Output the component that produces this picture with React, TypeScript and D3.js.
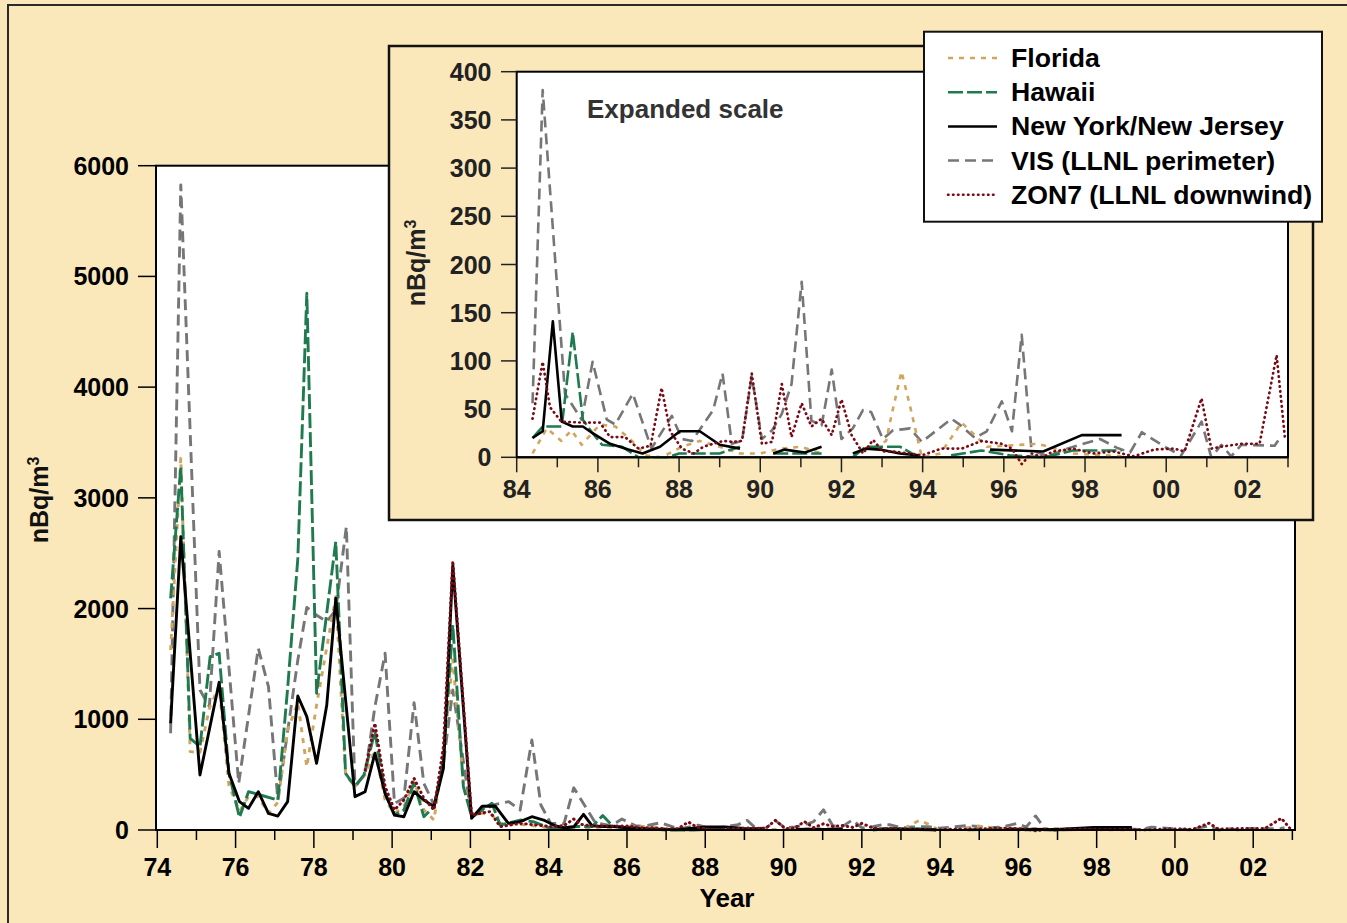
import React from "react";
import * as d3 from "d3";

type Pt = [number, number | null];

// ---- Data (year, nBq/m3); null = gap ----
const floridaData: Pt[] = [
  [74.34, 1626], [74.6, 3357], [74.84, 708], [75.09, 700], [75.33, 1100], [75.58, 1300], [75.83, 400],
  [76.1, 170], [76.33, 300], [76.58, 300], [76.84, 150], [77.08, 250], [77.33, 900], [77.59, 1150],
  [77.82, 570], [78.07, 1130], [78.56, 2108], [78.81, 500], [79.05, 390], [79.31, 500], [79.56, 723],
  [79.82, 271], [80.06, 150], [80.3, 211], [80.56, 437], [80.81, 181], [81.07, 90], [81.31, 692],
  [81.55, 1536], [81.82, 422], [82.03, 150], [82.5, 150], [82.76, 60], [83.3, 50], [83.8, 30], [84.1, 10],
  [84.39, 4], [84.74, 30], [85.1, 17], [85.35, 28], [85.6, 13], [86.05, 34], [86.43, 32], [86.84, 17],
  [87.17, 2], [87.57, 0], [88.07, 11], [88.51, 17], [89.0, 11], [89.5, 4], [90.0, 4], [90.5, 9],
  [91.0, 11], [91.5, 4], [92.0, null], [92.53, 9], [92.85, 11], [93.1, 17], [93.24, 45], [93.48, 89],
  [93.69, 53], [93.98, 0], [94.44, 4], [94.96, 36], [95.58, 11], [96.85, 14], [97.26, 9], [97.7, 4], [98.9, 1],
];

const hawaiiData: Pt[] = [
  [74.34, 2093], [74.6, 3282], [74.84, 828], [75.09, 753], [75.35, 1566], [75.58, 1596], [75.83, 512],
  [76.1, 114], [76.33, 346], [77.08, 271], [77.33, 1280], [77.59, 2450], [77.82, 4848], [78.07, 1235],
  [78.56, 2605], [78.81, 512], [79.05, 392], [79.28, 497], [79.56, 888], [79.82, 331], [80.06, 135],
  [80.3, 181], [80.56, 422], [80.81, 120], [81.07, 211], [81.31, 632], [81.55, 1852], [81.82, 392],
  [82.03, 120], [82.55, 241], [82.76, 45], [83.27, 90], [83.6, 75], [84.05, 15],
  [84.39, 20], [84.64, 32], [85.11, 32], [85.38, 130], [85.63, 39], [85.87, 25], [86.1, 13], [86.59, 11],
  [87.0, 0], [87.7, 0], [88.0, 4], [89.0, 4], [89.5, 11], [89.9, null], [90.32, 4], [91.51, 4],
  [91.9, null], [92.28, 0], [92.6, 11], [93.44, 11], [93.9, 0], [94.3, null], [94.7, 2], [95.45, 7],
  [96.15, 2], [97.0, 0], [97.7, 7], [98.9, 7],
];

const nyData: Pt[] = [
  [74.34, 964], [74.6, 2650], [75.09, 497], [75.58, 1334], [75.83, 512], [76.1, 256], [76.33, 196],
  [76.58, 346], [76.84, 151], [77.08, 126], [77.33, 256], [77.59, 1210], [77.82, 1024], [78.07, 602],
  [78.33, 1129], [78.56, 2093], [79.05, 301], [79.31, 346], [79.56, 693], [79.82, 331], [80.06, 135],
  [80.3, 120], [80.56, 346], [80.81, 271], [81.07, 211], [81.31, 557], [81.55, 2390], [82.03, 105],
  [82.3, 215], [82.63, 217], [82.97, 60], [83.27, 75], [83.57, 120], [83.87, 90], [84.15, 40],
  [84.39, 20], [84.64, 27], [84.89, 141], [85.11, 37], [85.38, 32], [85.63, 32], [85.87, 25], [86.3, 14],
  [86.75, 8], [87.1, 4], [87.53, 11], [88.02, 27], [88.51, 27], [89.0, 13], [89.5, 9], [89.9, null],
  [90.32, 4], [90.6, 8], [91.1, 5], [91.51, 11], [91.9, null], [92.28, 4], [92.6, 9], [92.95, 8],
  [93.44, 4], [93.9, 2], [94.5, null], [95.66, 8], [96.97, 6], [97.92, 23], [98.9, 23],
];

const visData: Pt[] = [
  [74.34, 873], [74.6, 5827], [75.09, 1265], [75.33, 1114], [75.58, 2515], [76.08, 422], [76.58, 1641],
  [76.84, 1295], [77.08, 271], [77.59, 1535], [77.82, 2011], [78.07, 1940], [78.33, 1882], [78.56, 1988],
  [78.83, 2740], [79.05, 400], [79.31, 500], [79.56, 1114], [79.82, 1596], [80.06, 241], [80.3, 286],
  [80.56, 1150], [80.81, 422], [81.07, 226], [81.31, 600], [81.55, 1265], [82.03, 115], [82.58, 226],
  [82.98, 256], [83.27, 180], [83.57, 813], [83.8, 226], [84.05, 60],
  [84.39, 56], [84.64, 381], [85.19, 66], [85.6, 39], [85.87, 99], [86.22, 39], [86.43, 34], [86.86, 66],
  [87.32, 9], [87.82, 43], [88.07, 19], [88.32, 17], [88.84, 49], [89.07, 87], [89.3, 14], [89.55, 17],
  [89.79, 84], [90.04, 19], [90.29, 28], [90.53, 45], [90.77, 76], [91.02, 182], [91.26, 38], [91.51, 33],
  [91.76, 91], [92.0, 19], [92.28, 30], [92.53, 49], [92.73, 47], [93.02, 19], [93.27, 28], [93.5, 29],
  [93.69, 30], [93.98, 16], [94.71, 40], [94.88, 35], [95.29, 20], [95.58, 27], [95.95, 58], [96.2, 27],
  [96.44, 127], [96.68, 8], [97.07, 1], [97.56, 9], [98.37, 19], [98.78, 10], [99.11, 5], [99.4, 26],
  [100.0, 10], [100.37, 2], [100.87, 37], [101.11, 0], [101.36, 13], [101.6, 1], [101.85, 13],
  [102.67, 12], [102.8, 20],
];

const zon7Data: Pt[] = [
  [79.31, 542], [79.56, 964], [79.82, 392], [80.06, 181], [80.3, 271], [80.56, 467], [80.81, 286],
  [81.07, 181], [81.31, 753], [81.55, 2430], [82.03, 135], [82.5, 166], [82.76, 30], [83.27, 60],
  [83.7, 45], [84.1, 30],
  [84.39, 40], [84.64, 99], [84.82, 52], [85.1, 37], [85.6, 36], [86.05, 36], [86.3, 21], [86.67, 21],
  [87.0, 9], [87.3, 12], [87.57, 72], [87.78, 27], [88.07, 9], [88.36, 4], [88.6, 11], [88.84, 14],
  [89.09, 17], [89.3, 16], [89.55, 17], [89.79, 87], [90.04, 14], [90.29, 16], [90.53, 76], [90.77, 21],
  [91.02, 56], [91.26, 32], [91.51, 40], [91.76, 23], [92.0, 60], [92.25, 23], [92.53, 4], [92.78, 18],
  [93.02, 6], [93.27, 6], [93.69, 4], [93.98, 2], [94.46, 9], [94.96, 9], [95.45, 17], [95.95, 14],
  [96.2, 9], [96.44, -7], [96.68, 4], [96.97, 0], [97.2, 6], [97.7, 9], [98.2, 4], [98.7, 6], [99.2, 1],
  [99.7, 8], [100.2, 9], [100.45, 6], [100.87, 61], [101.11, 9], [101.36, 11], [101.85, 14], [102.3, 14],
  [102.72, 106], [102.93, 18],
];

const mainYTicks = [0, 1000, 2000, 3000, 4000, 5000, 6000];
const insetYTicks = [0, 50, 100, 150, 200, 250, 300, 350, 400];
const yearLabel = (y: number) => String(y % 100).padStart(2, "0");

type Series = { name: string; data: Pt[]; color: string; dash: string; cap: "butt" | "round"; w: number };

const seriesList: Series[] = [
  { name: "VIS (LLNL perimeter)", data: visData, color: "#767676", dash: "11 6", cap: "butt", w: 2.9 },
  { name: "Florida", data: floridaData, color: "#D2A55E", dash: "5 6", cap: "butt", w: 2.9 },
  { name: "Hawaii", data: hawaiiData, color: "#1F7A50", dash: "15 4", cap: "butt", w: 2.9 },
  { name: "New York/New Jersey", data: nyData, color: "#000000", dash: "", cap: "butt", w: 2.9 },
  { name: "ZON7 (LLNL downwind)", data: zon7Data, color: "#7A0A16", dash: "0.5 4.5", cap: "round", w: 3 },
];
const legendOrder = ["Florida", "Hawaii", "New York/New Jersey", "VIS (LLNL perimeter)", "ZON7 (LLNL downwind)"];

const FONT = "'Liberation Sans', Arial, Helvetica, sans-serif";

export default function App() {
  const W = 1347, H = 923;

  const xMain = d3.scaleLinear().domain([74, 103]).range([157.3, 157.3 + 29 * 39.14]);
  const yMain = d3.scaleLinear().domain([0, 6000]).range([830, 165.7]);

  const xIn = d3.scaleLinear().domain([84, 103]).range([516.7, 1288]);
  const yIn = d3.scaleLinear().domain([0, 400]).range([457.3, 71.7]);

  const lineMain = d3.line<Pt>().defined((d) => d[1] !== null).x((d) => xMain(d[0])).y((d) => yMain(d[1] as number));
  const lineIn = d3.line<Pt>().defined((d) => d[1] !== null).x((d) => xIn(d[0])).y((d) => yIn(d[1] as number));

  const mainYears = d3.range(74, 104);
  const insetYears = d3.range(84, 104);

  const mainLeft = 156, mainRight = 1295, mainTop = yMain(6000), mainBottom = yMain(0);
  const inLeft = xIn(84), inRight = xIn(103), inTop = yIn(400), inBottom = yIn(0);

  return (
    <svg width={W} height={H} style={{ position: "absolute", left: 0, top: 0, display: "block" }} fontFamily={FONT}>
      <rect x={0} y={0} width={W} height={H} fill="#FAE8BB" />
      <rect x={8} y={5} width={W} height={H} fill="none" stroke="#2a2a2a" strokeWidth={2} />

      {/* Main plot */}
      <rect x={mainLeft} y={mainTop} width={mainRight - mainLeft} height={mainBottom - mainTop} fill="#fff" stroke="#000" strokeWidth={2} />
      {seriesList.map((s) => (
        <path key={s.name} d={lineMain(s.data) || ""} fill="none" stroke={s.color} strokeWidth={s.w}
          strokeDasharray={s.dash || undefined} strokeLinecap={s.cap} strokeLinejoin="round" />
      ))}
      {/* main y axis */}
      {mainYTicks.map((t) => (
        <g key={t}>
          <line x1={138} x2={mainLeft} y1={yMain(t)} y2={yMain(t)} stroke="#000" strokeWidth={1.5} />
          <text x={129} y={yMain(t) + 9} textAnchor="end" fontSize={25} fontWeight="bold" fill="#000">{t}</text>
        </g>
      ))}
      {/* main x axis */}
      {mainYears.map((yr) => {
        const major = yr % 2 === 0;
        return (
          <g key={yr}>
            <line x1={xMain(yr)} x2={xMain(yr)} y1={mainBottom} y2={mainBottom + (major ? 18 : 10)} stroke="#000" strokeWidth={1.5} />
            {major && yr <= 102 && (
              <text x={xMain(yr)} y={876} textAnchor="middle" fontSize={25} fontWeight="bold" fill="#000">{yearLabel(yr)}</text>
            )}
          </g>
        );
      })}
      <line x1={mainLeft} x2={mainRight} y1={mainBottom} y2={mainBottom} stroke="#000" strokeWidth={2} />
      <text x={727} y={907} textAnchor="middle" fontSize={26} fontWeight="bold" fill="#000">Year</text>
      <text transform="translate(48,500) rotate(-90)" textAnchor="middle" fontSize={25} fontWeight="bold" fill="#111">
        nBq/m<tspan dy={-9} fontSize={16}>3</tspan>
      </text>

      {/* Inset */}
      <rect x={389} y={46} width={924} height={474} fill="#FAE8BB" stroke="#111" strokeWidth={2.5} />
      <rect x={inLeft} y={inTop} width={inRight - inLeft} height={inBottom - inTop} fill="#fff" stroke="#000" strokeWidth={2} />
      {seriesList.map((s) => (
        <path key={"in" + s.name} d={lineIn(s.data.filter((d) => d[0] >= 84.3)) || ""} fill="none" stroke={s.color}
          strokeWidth={s.w - 0.3} strokeDasharray={s.dash || undefined} strokeLinecap={s.cap} strokeLinejoin="round" />
      ))}
      {insetYTicks.map((t) => (
        <g key={"iy" + t}>
          <line x1={501} x2={inLeft} y1={yIn(t)} y2={yIn(t)} stroke="#222" strokeWidth={1.5} />
          <text x={491.5} y={yIn(t) + 9} textAnchor="end" fontSize={25} fontWeight="bold" fill="#222">{t}</text>
        </g>
      ))}
      {insetYears.map((yr) => {
        const major = yr % 2 === 0;
        return (
          <g key={"ix" + yr}>
            <line x1={xIn(yr)} x2={xIn(yr)} y1={inBottom} y2={inBottom + (major ? 15 : 10)} stroke="#222" strokeWidth={1.5} />
            {major && yr <= 102 && (
              <text x={xIn(yr)} y={498} textAnchor="middle" fontSize={25} fontWeight="bold" fill="#222">{yearLabel(yr)}</text>
            )}
          </g>
        );
      })}
      <line x1={inLeft} x2={inRight} y1={inBottom} y2={inBottom} stroke="#000" strokeWidth={2} />
      <text transform="translate(425,263) rotate(-90)" textAnchor="middle" fontSize={25} fontWeight="bold" fill="#222">
        nBq/m<tspan dy={-9} fontSize={16}>3</tspan>
      </text>
      <text x={587} y={118} fontSize={26} fontWeight="bold" fill="#333">Expanded scale</text>

      {/* Legend */}
      <rect x={924} y={31.7} width={398} height={190} fill="#fff" stroke="#111" strokeWidth={2} />
      {legendOrder.map((name, i) => {
        const s = seriesList.find((q) => q.name === name)!;
        const cy = 58 + i * 34.2;
        return (
          <g key={"lg" + name}>
            <line x1={948} x2={997} y1={cy} y2={cy} stroke={s.color} strokeWidth={s.w - 0.4}
              strokeDasharray={s.dash || undefined} strokeLinecap={s.cap} />
            <text transform={`translate(1011,${cy + 9}) scale(1.065,1)`} fontSize={25} fontWeight="bold" fill="#000">{name}</text>
          </g>
        );
      })}
    </svg>
  );
}
